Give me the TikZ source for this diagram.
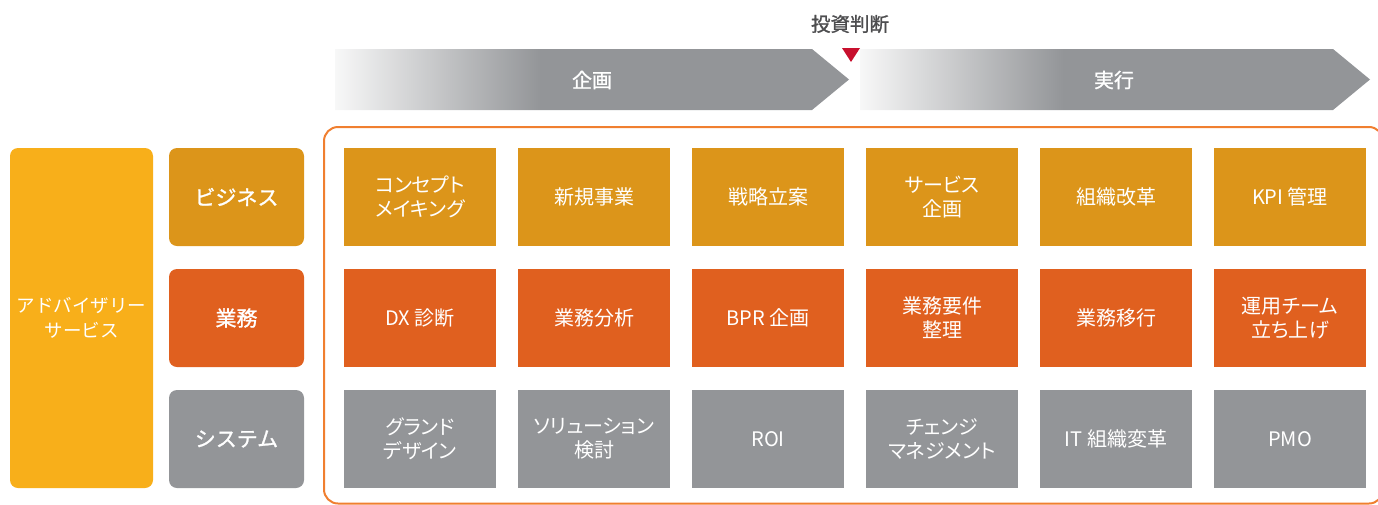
\documentclass[tikz,border=0pt]{standalone}
\usepackage{fontspec}
\setmainfont{Noto Sans CJK JP}
\newfontfamily\gridfont{Noto Sans CJK JP}[RawFeature=+palt]
\newfontfamily\semibold{Noto Sans CJK JP}[FakeBold=1.2]
\definecolor{advy}{HTML}{F8AF1A}
\definecolor{biz}{HTML}{DC951A}
\definecolor{ops}{HTML}{E0601F}
\definecolor{sysg}{HTML}{939598}
\definecolor{frameor}{HTML}{F07F30}
\definecolor{marker}{HTML}{C8102E}
\definecolor{labelg}{HTML}{4D4D4F}
\pgfdeclarehorizontalshading{phaseshade}{100bp}{color(0bp)=(white); color(25bp)=(white!93!sysg); color(45bp)=(sysg); color(100bp)=(sysg)}
\begin{document}
\begin{tikzpicture}[x=1pt,y=-1pt,
  cell/.style={minimum width=152pt, minimum height=98pt, inner sep=0pt, text=white, align=center, font=\gridfont\fontsize{20}{24}\selectfont},
  bizcell/.style={cell, fill=biz},
  opscell/.style={cell, fill=ops},
  syscell/.style={cell, fill=sysg},
  catbox/.style={rounded corners=8pt, minimum width=135pt, minimum height=98pt, inner sep=0pt, text=white, align=center, font=\semibold\fontsize{21}{26}\selectfont},
  phase/.style={shading=phaseshade, draw=none},
  phaselabel/.style={text=white, font=\semibold\fontsize{20}{24}\selectfont},
  frame/.style={draw=frameor, line width=2pt, rounded corners=14pt}
]
\useasboundingbox (0,0) rectangle (1378,504);
\clip (0,0) rectangle (1378,504);

% phase arrows
\shade[phase] (335,49) -- (812,49) -- (849,79.5) -- (812,110) -- (335,110) -- cycle;
\shade[phase] (860,49) -- (1333,49) -- (1370,79.5) -- (1333,110) -- (860,110) -- cycle;
\node[phaselabel] (plan) at (592,80) {企画};
\node[phaselabel] (exec) at (1114,80) {実行};

% investment decision marker
\node[text=labelg, font=\semibold\fontsize{19.5}{22}\selectfont] (decision) at (850,24) {投資判断};
\fill[marker] (842,48) -- (860,48) -- (851,62) -- cycle;

% frame
\draw[frame] (324,127) rectangle (1383,503.5);

% left column
\node[rounded corners=8pt, fill=advy, minimum width=143pt, minimum height=340pt, inner sep=0pt, text=white, align=center, font=\fontsize{18.5}{25}\selectfont] (advisory) at (81.5,318) {アドバイザリー\\サービス};
\node[catbox, fill=biz] (business) at (236.5,197) {ビジネス};
\node[catbox, fill=ops] (operations) at (236.5,318) {業務};
\node[catbox, fill=sysg] (system) at (236.5,439) {システム};

% business row
\node[bizcell] (b1) at (420,197) {コンセプト\\メイキング};
\node[bizcell] (b2) at (594,197) {新規事業};
\node[bizcell] (b3) at (768,197) {戦略立案};
\node[bizcell] (b4) at (942,197) {サービス\\企画};
\node[bizcell] (b5) at (1116,197) {組織改革};
\node[bizcell] (b6) at (1290,197) {KPI 管理};

% operations row
\node[opscell] (o1) at (420,318) {DX 診断};
\node[opscell] (o2) at (594,318) {業務分析};
\node[opscell] (o3) at (768,318) {BPR 企画};
\node[opscell] (o4) at (942,318) {業務要件\\整理};
\node[opscell] (o5) at (1116,318) {業務移行};
\node[opscell] (o6) at (1290,318) {運用チーム\\立ち上げ};

% system row
\node[syscell] (s1) at (420,439) {グランド\\デザイン};
\node[syscell] (s2) at (594,439) {ソリューション\\検討};
\node[syscell] (s3) at (768,439) {ROI};
\node[syscell] (s4) at (942,439) {チェンジ\\マネジメント};
\node[syscell] (s5) at (1116,439) {IT 組織変革};
\node[syscell] (s6) at (1290,439) {PMO};
\end{tikzpicture}
\end{document}
